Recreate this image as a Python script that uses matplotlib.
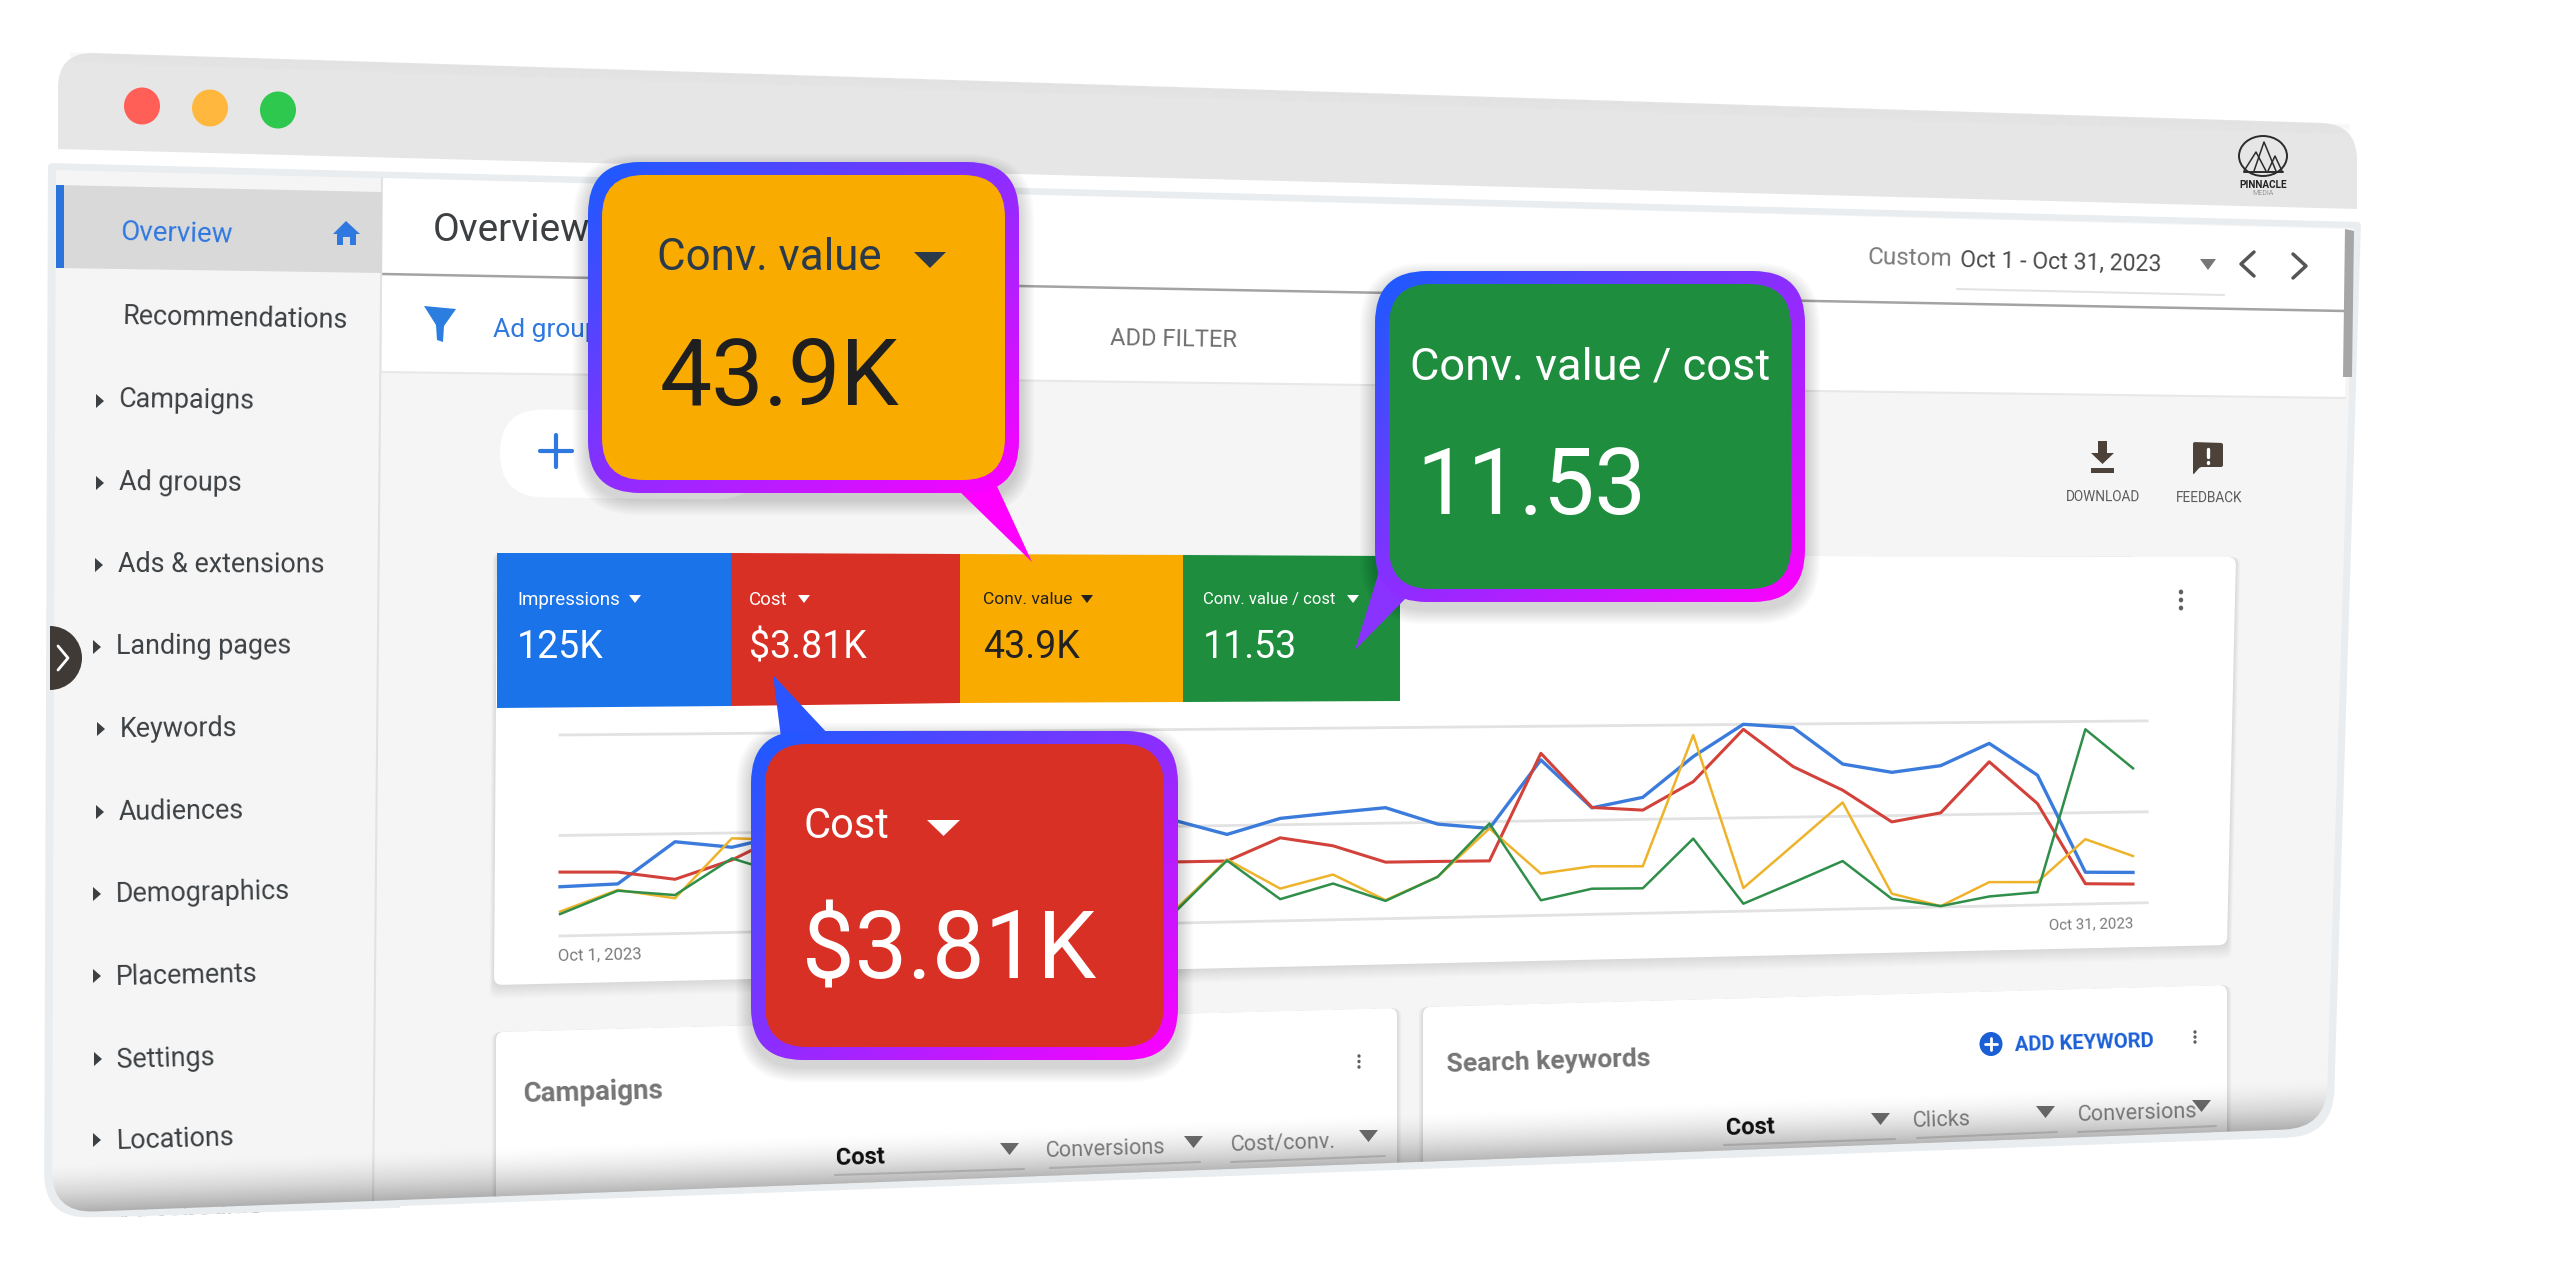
#!/usr/bin/env python

"""
Ads dashboard screenshot in a tilted browser window, with three callouts over the metric tiles
"""

import matplotlib
matplotlib.use('Agg')
import matplotlib.pyplot as plt
from matplotlib.patches import PathPatch, Ellipse, Wedge
from matplotlib.path import Path
from matplotlib.transforms import Transform
import numpy as np

plt.rcParams['font.family'] = ['Roboto', 'DejaVu Sans']

# daily series, as percent of the chart height (0 = bottom gridline, 100 = top gridline)
days = list(range(1, 32))
impressions = [24.5, 25.4, 46.0, 42.8, 49, 50, 52, 54, 53, 55, 60, 53.2, 45.4, 53.3, 55.8, 58.1,
               49.1, 46.4, 82.2, 56.5, 61.7, 83.1, 100.1, 98.1, 78.2, 73.4, 76.7, 88.5, 70.9, 17.4, 16.8]
cost = [31.8, 31.3, 27.2, 36.4, 50, 42, 40, 38, 36, 34, 32, 31.6, 31.6, 43.2, 38.6, 29.6,
        29.5, 29.3, 85.7, 56.7, 54.9, 69.7, 97.4, 77.1, 64.1, 46.6, 51.1, 78.5, 55.4, 11.1, 10.4]
conv_value = [12.1, 22.4, 17.7, 47.3, 46, 42, 35, 30, 25, 18, 12, 6, 32.4, 16.8, 23.6, 9.7,
              21.4, 46.4, 22.1, 25.5, 25.0, 94.6, 12.4, 34.9, 57.5, 7.8, 0.5, 13.0, 12.5, 35.5, 25.8]
conv_value_cost = [10.9, 22.0, 19.3, 37.2, 28, 22, 18, 16, 14, 10, 8, 5, 31.9, 11.3, 18.9, 9.3,
                   21.4, 49.0, 8.0, 13.6, 13.3, 39.3, 4.0, 14.8, 25.9, 5.0, 0.5, 5.2, 7.0, 95.7, 74.0]
grid_values = [0, 50, 100]

tile_labels = ['Impressions', 'Cost', 'Conv. value', 'Conv. value / cost']
tile_values = ['125K', '$3.81K', '43.9K', '11.53']
date_labels = ['Oct 1, 2023', 'Oct 31, 2023']
menu_items = ['Campaigns', 'Ad groups', 'Ads & extensions', 'Landing pages', 'Keywords', 'Audiences',
              'Demographics', 'Placements', 'Settings', 'Locations', 'Ad schedule']

BLUE = '#1a73e8'
RED = '#d93025'
ORANGE = '#f9ab00'
GREEN = '#1e8e3e'
TEXT = '#3c4043'

fig = plt.figure(figsize=(25.6, 12.63), dpi=100)
ax = fig.add_axes([0, 0, 1, 1])
ax.set_xlim(0, 2560)
ax.set_ylim(1263, 0)
ax.set_autoscale_on(False)
ax.axis('off')


class Homography(Transform):
    """maps the chart's day/percent rectangle on to the tilted quad in the picture"""
    input_dims = 2
    output_dims = 2

    def __init__(self, src, dst):
        super().__init__()
        a, b = [], []
        for (x, y), (u, v) in zip(src, dst):
            a.append([x, y, 1, 0, 0, 0, -u*x, -u*y])
            a.append([0, 0, 0, x, y, 1, -v*x, -v*y])
            b += [u, v]
        self.h = np.append(np.linalg.solve(np.array(a, float), np.array(b, float)), 1.).reshape(3, 3)

    def transform_non_affine(self, values):
        p = np.column_stack([values, np.ones(len(values))]) @ self.h.T
        return p[:, :2]/p[:, 2:]


def round_poly(pts, radii):
    """closed path through pts with rounded corners"""
    pts = np.array(pts, float)
    n = len(pts)
    if np.isscalar(radii):
        radii = [radii]*n
    verts, codes = [], []
    for i in range(n):
        p = pts[i]
        a = pts[i-1]-p
        b = pts[(i+1) % n]-p
        r = radii[i]
        start = p+a/np.hypot(*a)*r
        end = p+b/np.hypot(*b)*r
        verts += [start, p, end]
        codes += [Path.MOVETO if i == 0 else Path.LINETO, Path.CURVE3, Path.CURVE3]
    verts.append(verts[0])
    codes.append(Path.CLOSEPOLY)
    return Path(verts, codes)


def poly(pts, color, z, r=0, alpha=None, clip=None):
    patch = PathPatch(round_poly(pts, r), fc=color, ec='none', lw=0, zorder=z, alpha=alpha)
    ax.add_patch(patch)
    if clip is not None:
        patch.set_clip_path(clip, transform=ax.transData)
    return patch


def line(pts, color, lw, z, clip=None):
    xs, ys = zip(*pts)
    l, = ax.plot(xs, ys, color=color, lw=lw, zorder=z, solid_capstyle='round')
    if clip is not None:
        l.set_clip_path(clip, transform=ax.transData)


def label(x, y, s, size, color=TEXT, weight='normal', z=10, rot=None, ha='left', va='center'):
    # lines fan out with the perspective, flat around y=600
    if rot is None:
        rot = (y-600)*0.0036
    if va == 'center':
        y = y+2+(y-200)*0.004
    return ax.text(x, y, s, fontsize=size, color=color, fontweight=weight, rotation=rot,
                   rotation_mode='anchor', ha=ha, va=va, zorder=z)


def tri_down(x0, x1, y0, y1, color, z=10):
    poly([(x0, y0), (x1, y0), ((x0+x1)/2, y1)], color, z)


def dots(x, y0, y1, z=10, color='#5f5f5f', r=2.2):
    for y in np.linspace(y0, y1, 3):
        ax.add_patch(Ellipse((x, y), r*2, r*2.2, fc=color, ec='none', zorder=z))


def card(pts, r, z, clip=None):
    pts = np.array(pts, float)
    for k in range(1, 15):
        grown = pts+np.array([[-k/3, 0], [k/3, 0], [k/3, k], [-k/3, k]])
        poly(grown, 'k', z, r=r, alpha=0.009, clip=clip)
    poly(pts, 'white', z+0.1, r=r, clip=clip)


def callout(x0, y0, x1, y1, tail, tail_color, fill, z):
    outer = [(x0, y0), (x1, y0), (x1, y1), (x0, y1)]
    for k in range(1, 15):
        e = k*1.1
        poly([(x0-e, y0-e+7), (x1+e, y0-e+7), (x1+e, y1+e+7), (x0-e, y1+e+7)], 'k', z, r=50+e, alpha=0.012)
    poly(tail, tail_color, z+0.1)
    path = round_poly(outer, 52)
    u, v = np.meshgrid(np.linspace(0, 1, 120), np.linspace(0, 1, 120))
    t = ((u+v)/2)[..., None]
    img = np.array([0.1, 0.36, 1.])*(1-t)+np.array([1., 0., 1.])*t
    im = ax.imshow(img, extent=(x0, x1, y1, y0), aspect='auto', zorder=z+0.2, interpolation='bilinear')
    im.set_clip_path(path, transform=ax.transData)
    m = 14
    poly([(x0+m, y0+13), (x1-m, y0+13), (x1-m, y1-13), (x0+m, y1-13)], fill, z+0.3, r=42)


# browser window
outer_pts = [(48, 163), (2361, 222), (2333, 1136), (44, 1219)]
inner_pts = [(56, 170), (2354, 228), (2326, 1128), (52, 1213)]
poly([(58, 149), (58, 52), (2357, 124), (2357, 209)], '#e6e6e6', 1, r=[0, 36, 36, 0])
for k in range(10):
    poly([(70, 52+k), (2350, 124+k), (2350, 124+k+2), (70, 54+k)], '#d8d8d8', 1.1, alpha=0.1*(1-k/10))
poly(outer_pts, '#e9edf0', 2, r=[4, 4, 46, 46])
poly(inner_pts, '#f5f5f5', 3, r=[0, 0, 42, 42])
body = round_poly(inner_pts, [0, 0, 42, 42])

for x, y, c in [(142, 106, '#ff5f57'), (210, 108, '#ffb83d'), (278, 110, '#2dc84d')]:
    ax.add_patch(Ellipse((x, y), 36, 37, fc=c, ec='none', zorder=4))

# logo
ax.add_patch(Ellipse((2263, 156), 48, 40, fc='none', ec='#2b2b2b', lw=1.4, zorder=4))
line([(2244, 171), (2256, 152), (2266, 171)], '#2b2b2b', 1.1, 4)
line([(2254, 171), (2264, 142), (2276, 171)], '#2b2b2b', 1.1, 4)
line([(2268, 171), (2275, 156), (2282, 171)], '#2b2b2b', 1.1, 4)
line([(2244, 172), (2283, 172)], '#2b2b2b', 1.4, 4)
label(2263, 183, 'PINNACLE', 7.2, '#222222', 'bold', z=4, ha='center', rot=0)
label(2263, 192, 'MEDIA', 5, '#999999', z=4, ha='center', rot=0)

# header and filter rows
poly([(382, 178), (2349, 229), (2345, 398), (382, 372)], 'white', 4)
line([(382, 274), (2345, 311)], '#a3a3a3', 1.8, 5)
line([(382, 372), (2345, 398)], '#e8e8e8', 1.5, 5)
line([(382, 178), (373, 1205)], '#e2e2e2', 1.5, 5)
poly([(2345, 229), (2354, 231), (2352, 377), (2343, 377)], '#a6a6a6', 5)

# side menu
poly([(56, 185), (382, 192), (382, 273), (56, 268)], '#d9d9d9', 5)
poly([(56, 185), (64, 185), (64, 268), (56, 268)], '#2b74dc', 6)
label(121, 230, 'Overview', 20, '#2f78e0')
poly([(346, 221), (360, 234), (356, 234), (356, 245), (350, 245), (350, 237), (343, 237), (343, 245),
      (337, 245), (337, 234), (333, 234)], '#2f78e0', 6)
label(123, 314, 'Recommendations', 19.3)
menu_x = [119, 119, 118, 116, 120, 119, 116, 116, 117, 116, 116]
menu_y = [397, 479, 561, 643, 725, 808, 890, 972, 1055, 1136, 1218]
for name, x, y in zip(menu_items, menu_x, menu_y):
    label(x, y, name, 19.4, z=6)
    if name != 'Ad schedule':
        ym = y+4
        poly([(x-23, ym-7), (x-15, ym), (x-23, ym+7)], TEXT, 6)
# last menu row is cut off by the window edge
poly([(100, 1211.3), (400, 1200.3), (400, 1208), (100, 1217.5)], '#e9edf0', 6.5)
poly([(100, 1217.5), (400, 1208), (400, 1250), (100, 1260)], 'white', 6.5)

# expand handle
ax.add_patch(Wedge((50, 658), 32, -90, 90, fc='#3f3a36', ec='none', zorder=7))
line([(58, 646), (68, 658), (58, 670)], 'white', 2, 8)

# title and filter
label(433, 241, 'Overview', 28, va='baseline', rot=0)
poly([(424, 306), (456, 309), (444, 326), (443, 342), (437, 340), (436, 325)], '#2b7de0', 6)
label(493, 327, 'Ad groups', 19, '#2f78e0', rot=0)
label(1110, 336, 'ADD FILTER', 17, '#6f6f6f')
poly([(500, 409), (760, 412), (760, 500), (500, 497)], 'white', 5, r=44)
line([(540, 451), (572, 451)], '#2f78e0', 3, 6)
line([(556, 435), (556, 467)], '#2f78e0', 3, 6)

# date selector
label(1868, 255, 'Custom', 17.5, '#7b7b7b')
label(1960, 258, 'Oct 1 - Oct 31, 2023', 16.6, '#4a4a4a')
line([(1957, 289), (2224, 295)], '#e3e3e3', 1.5, 6)
tri_down(2200, 2216, 259, 270, '#777777')
line([(2254, 252), (2241, 264), (2254, 276)], '#555555', 2.5, 6)
line([(2293, 254), (2306, 266), (2293, 278)], '#555555', 2.5, 6)

# download and feedback
brown = '#4d4239'
poly([(2098, 441), (2107, 441), (2107, 453), (2114, 453), (2102.5, 464), (2091, 453), (2098, 453)], brown, 6)
poly([(2091, 468), (2114, 468), (2114, 473), (2091, 473)], brown, 6)
label(2066, 494, 'DOWNLOAD', 9.8, '#5a5a5a', rot=-0.2)
poly([(2193, 442), (2223, 443), (2223, 467), (2200, 467), (2193, 475)], brown, 6, r=2)
line([(2208, 449), (2208, 457)], 'white', 2.4, 7)
line([(2208, 462), (2208, 463)], 'white', 2.4, 7)
label(2176, 495, 'FEEDBACK', 9.8, '#5a5a5a', rot=-0.2)

# main chart card
card([(497, 553), (2236, 557), (2227, 945), (494, 985)], 8, 5)
dots(2181, 592, 608, z=6)

# metric tiles
tile_edges = [497, 731, 960, 1183, 1400]
tile_tops = [553, 553, 554, 555, 556]
tile_bottoms = [708, 706, 703, 702, 701]
tile_colors = [BLUE, RED, ORANGE, GREEN]
tile_text = ['white', 'white', '#222222', 'white']
tile_text_x = [517, 749, 983, 1203]
tile_tri_x = [629, 798, 1081, 1347]
tile_sizes = [13.5, 13.5, 12.6, 12]
for i in range(4):
    poly([(tile_edges[i], tile_tops[i]), (tile_edges[i+1], tile_tops[i+1]),
          (tile_edges[i+1], tile_bottoms[i+1]), (tile_edges[i], tile_bottoms[i])], tile_colors[i], 7)
    label(tile_text_x[i], 596, tile_labels[i], tile_sizes[i], tile_text[i], z=8, rot=0)
    label(tile_text_x[i], 658, tile_values[i], 27, tile_text[i], z=8, va='baseline', rot=0)
    tri_down(tile_tri_x[i], tile_tri_x[i]+12, 595, 603, tile_text[i], z=8)

# line chart
chart = Homography([(1, 0), (31, 0), (31, 100), (1, 100)],
                   [(560, 936), (2133, 903), (2133, 721), (560, 735)])+ax.transData
for g in grid_values:
    ax.plot([days[0], days[-1]+0.3], [g, g], color='#e2e2e2', lw=2, zorder=7, transform=chart)
ax.plot(days, impressions, color='#3b7bdc', lw=2.4, zorder=8, transform=chart)
ax.plot(days, cost, color='#d3423a', lw=2.2, zorder=8.1, transform=chart)
ax.plot(days, conv_value, color='#eeb32a', lw=1.8, zorder=8.2, transform=chart)
ax.plot(days, conv_value_cost, color='#2f8f4a', lw=1.8, zorder=8.3, transform=chart)
label(558, 951, date_labels[0], 12, '#7a7a7a', z=8, rot=1.2)
label(2133, 919, date_labels[1], 10.8, '#7a7a7a', z=8, ha='right', rot=1.2)

# lower cards
card([(496, 1032), (1397, 1008), (1397, 1260), (496, 1260)], 8, 5, clip=body)
card([(1423, 1007), (2227, 985), (2227, 1240), (1423, 1240)], 8, 5, clip=body)
label(524, 1089, 'Campaigns', 20, '#757575', 'bold', z=6, rot=1.5)
dots(1359, 1056, 1067, z=6, r=1.6)
label(1447, 1060, 'Search keywords', 19, '#757575', 'bold', z=6, rot=1.7)
ax.add_patch(Ellipse((1991, 1044), 23, 24, fc='#1a5fd6', ec='none', zorder=6))
line([(1985, 1044), (1997, 1044)], 'white', 2, 7)
line([(1991, 1038), (1991, 1050)], 'white', 2, 7)
label(2015, 1040, 'ADD KEYWORD', 14.5, '#1a5fd6', 'bold', z=6, rot=1.7)
dots(2195, 1032, 1042, z=6, r=1.6)

col_text = ['Cost', 'Conversions', 'Cost/conv.', 'Cost', 'Clicks', 'Conversions']
col_x = [836, 1046, 1231, 1726, 1913, 2078]
col_y = [1153, 1146, 1140, 1123, 1116, 1110]
col_tri = [1000, 1184, 1359, 1871, 2036, 2192]
col_rule = [(835, 1024), (1050, 1200), (1231, 1385), (1724, 1895), (1917, 2057), (2078, 2216)]
for s, x, y, tx, rule in zip(col_text, col_x, col_y, col_tri, col_rule):
    bold = s == 'Cost'
    label(x, y, s, 17 if bold else 15.6, '#111111' if bold else '#858585', 'bold' if bold else 'normal',
          z=6, rot=1.8)
    tri_down(tx, tx+19, y-10, y+2, '#6e6e6e', z=6)
    line([(rule[0], y+22), (rule[1], y+16)], '#dcdcdc', 1.5, 6, clip=body)

# fade at the bottom edge of the window
fx, fy = np.meshgrid(np.arange(0, 2560)+0.5, np.arange(1000, 1263)+0.5)
edge = 1213-(fx-52)*(85/2274)
depth = np.clip(1-(edge-fy)/52, 0, 1)
fade = np.zeros(fx.shape+(4,))
fade[..., 3] = 0.29*depth**1.7
im = ax.imshow(fade, extent=(0, 2560, 1263, 1000), aspect='auto', zorder=9, interpolation='nearest')
im.set_clip_path(body, transform=ax.transData)

# callouts
callout(588, 162, 1019, 493, [(958, 490), (996, 484), (1032, 562)], '#ff00ff', ORANGE, 20)
label(657, 270, 'Conv. value', 31.6, '#2b3a4a', z=21, va='baseline', rot=0)
tri_down(914, 946, 252, 268, '#2b3a4a', z=21)
label(660, 405, '43.9K', 67, '#1f1f1f', z=21, va='baseline', rot=0)

callout(1375, 271, 1805, 602, [(1381, 565), (1408, 596), (1355, 650)], '#8a33ff', GREEN, 22)
label(1410, 379, 'Conv. value / cost', 32.6, 'white', z=23, va='baseline', rot=0)
label(1416, 514, '11.53', 66, 'white', z=23, va='baseline', rot=0)

callout(751, 731, 1178, 1060, [(773, 675), (830, 736), (782, 745)], '#2a55ff', RED, 24)
label(803, 838, 'Cost', 30, 'white', z=25, va='baseline', rot=0)
tri_down(927, 960, 820, 836, 'white', z=25)
label(802, 978, '$3.81K', 67.5, 'white', z=25, va='baseline', rot=0)

plt.savefig('out.png', dpi=100)
plt.close(fig)
